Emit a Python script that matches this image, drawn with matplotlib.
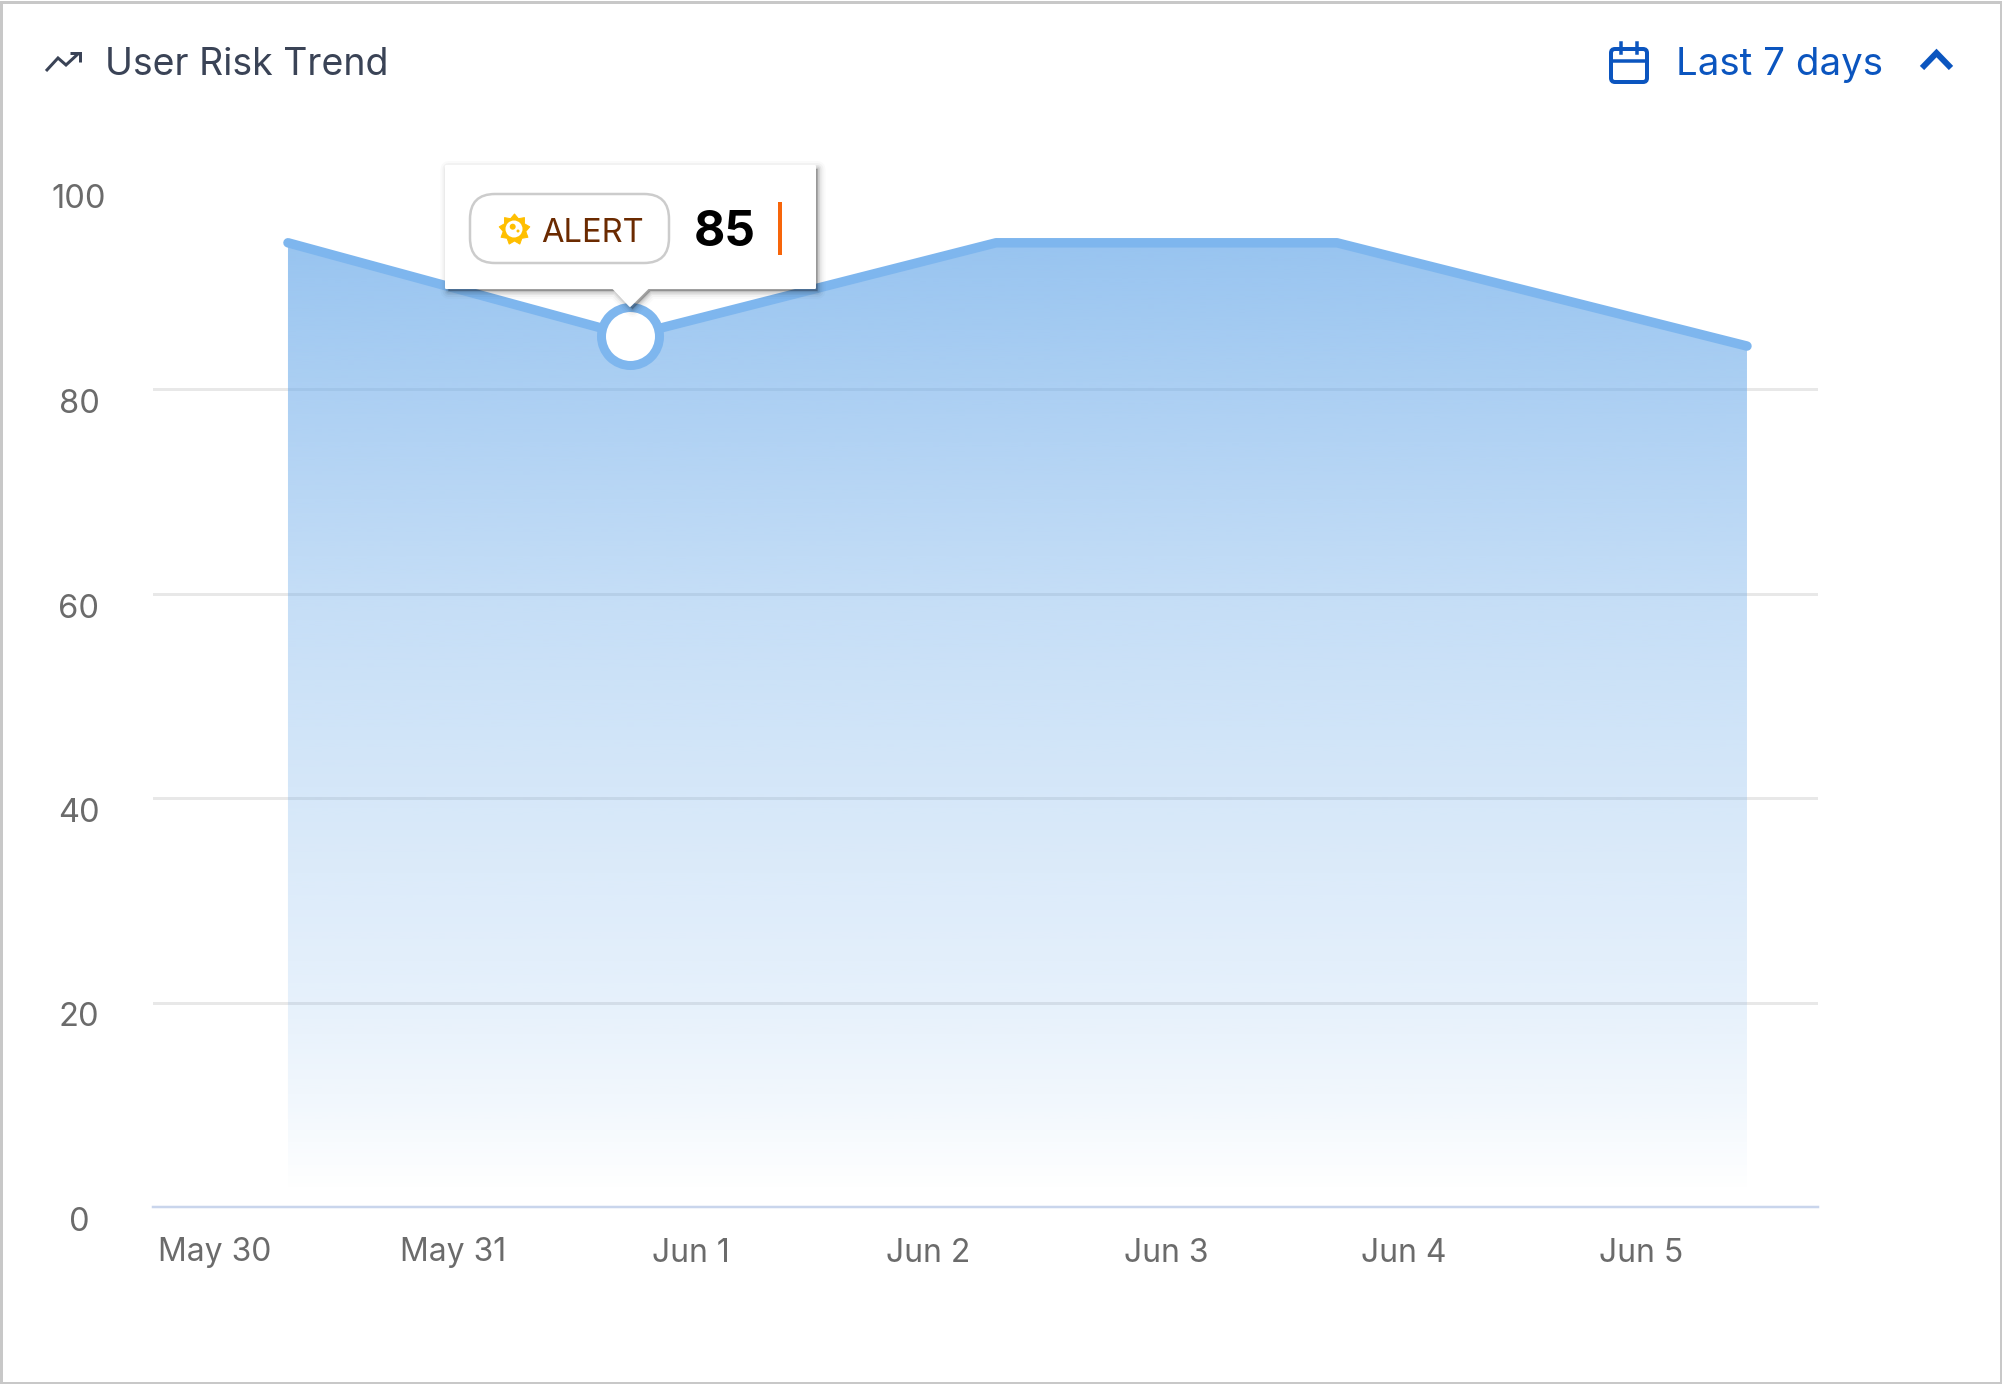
import matplotlib
matplotlib.use("Agg")
import matplotlib.pyplot as plt
import numpy as np
from matplotlib.patches import Circle, FancyBboxPatch, Polygon, Rectangle
from matplotlib.path import Path

W, H = 2002, 1384

# days counted from the "May 30" tick
days = [0.307, 1.746, 3.286, 4.72, 6.445]
risk = [94.3, 85.2, 94.3, 94.3, 84.2]
alert_value = "85"
alert_index = 1
day_ticks = [0, 1, 2, 3, 4, 5, 6]
day_labels = ["May 30", "May 31", "Jun 1", "Jun 2", "Jun 3", "Jun 4", "Jun 5"]
risk_ticks = [0, 20, 40, 60, 80, 100]

plt.rcParams["font.family"] = ["Inter", "DejaVu Sans"]

fig = plt.figure(figsize=(W / 100, H / 100), dpi=100, facecolor="white")


def px(v):
    return v * 0.72


# main chart, y 0..100 -> 1207..184.5 px
ax = fig.add_axes([153 / W, 1 - 1207 / H, (1818 - 153) / W, (1207 - 184.5) / H])
ax.set_facecolor("none")
ax.set_xlim((153 - 215) / 237.7, (1818 - 215) / 237.7)
ax.set_ylim(0, 100)

for s in ["top", "left", "right"]:
    ax.spines[s].set_visible(False)
ax.spines["bottom"].set_color("#C9D5EC")
ax.spines["bottom"].set_linewidth(px(2.5))

ax.set_yticks(risk_ticks)
ax.set_xticks(day_ticks)
ax.set_xticklabels(day_labels)
ax.tick_params(axis="y", length=0, pad=px(74), labelsize=23.5, labelcolor="#6B6B6B")
ax.tick_params(axis="x", length=0, pad=px(30.5), labelsize=23, labelcolor="#6B6B6B")
for lab in ax.get_yticklabels():
    lab.set_ha("center")
    lab.set_va("top")

ax.grid(axis="y", color="#E8E8E8", linewidth=px(3), zorder=1)
ax.set_axisbelow(True)
ax.yaxis.get_gridlines()[-1].set_visible(False)
ax.yaxis.get_gridlines()[0].set_visible(False)

# gradient fill under the line
grad_y = np.linspace(0, 100, 800)
alpha = np.interp(grad_y, [1.5, 10, 20, 40, 60, 80, 94, 100], [0.0, 0.09, 0.17, 0.28, 0.40, 0.57, 0.70, 0.74])
rgba = np.zeros((800, 1, 4))
rgba[..., 0] = 108 / 255
rgba[..., 1] = 171 / 255
rgba[..., 2] = 234 / 255
rgba[..., 3] = alpha[:, None]
xlim = ax.get_xlim()
im = ax.imshow(rgba, origin="lower", aspect="auto", extent=[xlim[0], xlim[1], 0, 100], zorder=2,
               interpolation="bilinear")
area = ax.fill_between(days, risk, 1.5, color="none")
im.set_clip_path(area.get_paths()[0], ax.transData)
ax.set_xlim(xlim)
ax.set_ylim(0, 100)

ax.plot(days, risk, color="#7EB6EE", lw=px(9.5), solid_capstyle="round", solid_joinstyle="round",
        clip_on=False, zorder=3)
ax.plot(days[alert_index], risk[alert_index], "o", ms=px(58), mew=px(9), mfc="white", mec="#7EB6EE",
        clip_on=False, zorder=4)

# overlay in pixel coordinates for header and tooltip
ov = fig.add_axes([0, 0, 1, 1], zorder=5)
ov.set_xlim(0, W)
ov.set_ylim(H, 0)
ov.axis("off")

ov.add_patch(Rectangle((1, 1.5), W - 2, H - 3, fill=False, ec="#C8C8C8", lw=px(3)))

# header left
dark = "#3A4356"
ov.plot([46, 58, 66, 79], [71, 58, 65, 53], color=dark, lw=px(3), solid_joinstyle="miter", solid_capstyle="butt")
ov.plot([70, 80, 80], [52.5, 52.5, 62], color=dark, lw=px(3), solid_joinstyle="miter", solid_capstyle="butt")
ov.text(105, 75, "User Risk Trend", fontsize=27, color=dark, va="baseline", ha="left")

# header right
blue = "#0B55BF"
ov.add_patch(FancyBboxPatch((1611, 49), 36, 33, boxstyle="round,pad=0,rounding_size=4", fill=False, ec=blue, lw=px(4)))
ov.plot([1611, 1647], [61, 61], color=blue, lw=px(3.5))
ov.plot([1621, 1621], [43, 53], color=blue, lw=px(3.5))
ov.plot([1637, 1637], [43, 53], color=blue, lw=px(3.5))
ov.text(1676, 75, "Last 7 days", fontsize=27.7, color=blue, va="baseline", ha="left")
ov.plot([1922, 1936.5, 1951], [68, 53, 68], color=blue, lw=px(6), solid_capstyle="butt", solid_joinstyle="miter")

# tooltip with a soft shadow
box = [(446, 166), (815, 166), (815, 288), (648, 288), (630, 306), (613, 288), (446, 288)]
for grow, a in [(16, 0.02), (12, 0.03), (8, 0.05), (5, 0.07), (2, 0.09)]:
    ov.add_patch(Polygon([(x + 2.5, y + 3) for x, y in box], closed=True, fc="#000000", ec="#000000",
                         alpha=a, lw=px(grow), joinstyle="round"))
ov.add_patch(Polygon(box, closed=True, fc="white", ec="white", lw=px(2), joinstyle="round"))

ov.add_patch(FancyBboxPatch((470, 194), 199, 69, boxstyle="round,pad=0,rounding_size=25", fc="white", ec="#CCCCCC", lw=px(2.5)))
sun = Path.unit_regular_star(9, innerCircle=0.74)
ov.plot(514, 229, marker=sun, ms=px(31), mfc="#FFBF00", mec="#FFBF00", mew=px(1), zorder=3)
ov.add_patch(Circle((514, 229), 8.5, fc="white", ec="none", zorder=4))
ov.add_patch(Circle((512.7, 226.7), 3, fc="#FFBF00", ec="none", zorder=5))
ov.add_patch(Circle((518, 231), 1.5, fc="#FFBF00", ec="none", zorder=5))
ov.text(541, 242, "ALERT", fontsize=23.5, color="#6B2A00", va="baseline", ha="left")
ov.text(693.5, 246, alert_value, fontsize=34.5, fontweight="bold", color="black", va="baseline", ha="left")
ov.add_patch(Rectangle((778, 202), 4, 53, fc="#F7650A", ec="none"))

fig.savefig("out.png", dpi=100)
